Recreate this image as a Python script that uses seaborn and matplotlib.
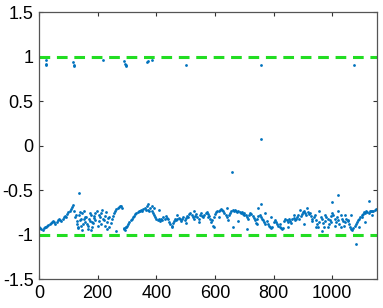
import numpy as np
import pandas as pd
import matplotlib
matplotlib.use("Agg")
import matplotlib.pyplot as plt
import seaborn as sns

# main trace, sampled every 4 samples (x = 0, 4, 8, ...)
trace_step = 4
trace_vals = [
    -0.92, -0.93, -0.94, -0.95, -0.93, -0.92, -0.91, -0.90, -0.89, -0.88,
    -0.87, -0.86, -0.85, -0.86, -0.88, -0.86, -0.84, -0.83, -0.84, -0.85,
    -0.82, -0.80, -0.79, -0.80, -0.77, -0.75, -0.73, -0.71, -0.69, -0.67,
    -0.74, -0.80, -0.88, -0.93, -0.78, -0.84, -0.90, -0.76, -0.82, -0.86,
    -0.80, -0.88, -0.94, -0.85, -0.78, -0.92, -0.87, -0.81, -0.76, -0.73,
    -0.90, -0.85, -0.80, -0.76, -0.72, -0.84, -0.79, -0.75, -0.86, -0.81,
    -0.92, -0.87, -0.83, -0.79, -0.76, -0.73, -0.71, -0.70, -0.69, -0.68,
    -0.68, -0.70, -0.93, -0.95, -0.92, -0.90, -0.88, -0.86, -0.84, -0.82,
    -0.80, -0.79, -0.77, -0.76, -0.75, -0.74, -0.73, -0.72, -0.73, -0.71,
    -0.70, -0.72, -0.68, -0.72, -0.74, -0.70, -0.73, -0.76, -0.78, -0.80,
    -0.82, -0.84, -0.83, -0.85, -0.82, -0.84, -0.80, -0.82, -0.79, -0.81,
    -0.83, -0.86, -0.88, -0.90, -0.87, -0.85, -0.83, -0.84, -0.82, -0.81,
    -0.83, -0.85, -0.82, -0.80, -0.84, -0.81, -0.79, -0.80, -0.77, -0.76,
    -0.78, -0.80, -0.82, -0.79, -0.77, -0.80, -0.82, -0.78, -0.76, -0.79,
    -0.80, -0.78, -0.76, -0.75, -0.77, -0.79, -0.82, -0.86, -0.90, -0.80,
    -0.77, -0.75, -0.74, -0.73, -0.72, -0.71, -0.72, -0.74, -0.76, -0.78,
    -0.80, -0.84, -0.78, -0.76, -0.74, -0.72, -0.73, -0.72, -0.74, -0.75,
    -0.74, -0.75, -0.76, -0.75, -0.77, -0.76, -0.78, -0.80, -0.82, -0.78,
    -0.76, -0.77, -0.79, -0.81, -0.84, -0.87, -0.82, -0.79, -0.78, -0.80,
    -0.82, -0.84, -0.86, -0.88, -0.85, -0.88, -0.90, -0.92, -0.93, -0.91,
    -0.86, -0.84, -0.86, -0.88, -0.90, -0.92, -0.93, -0.94, -0.93, -0.85,
    -0.82, -0.84, -0.86, -0.83, -0.85, -0.87, -0.83, -0.81, -0.84, -0.82,
    -0.80, -0.78, -0.82, -0.79, -0.77, -0.75, -0.73, -0.76, -0.78, -0.75,
    -0.77, -0.76, -0.79, -0.82, -0.80, -0.78, -0.84, -0.88, -0.92, -0.86,
    -0.80, -0.83, -0.87, -0.92, -0.85, -0.80, -0.82, -0.88, -0.84, -0.79,
    -0.76, -0.78, -0.82, -0.86, -0.80, -0.84, -0.88, -0.78, -0.82, -0.85,
    -0.90, -0.86, -0.82, -0.84, -0.88, -0.92, -0.94, -0.95, -0.93, -0.90,
    -0.88, -0.86, -0.84, -0.82, -0.80, -0.78, -0.77, -0.75, -0.76, -0.74,
    -0.75, -0.76, -0.74, -0.73, -0.74, -0.73, -0.72, -0.71,
]

# scattered samples around the band
band_x = [126, 130, 134, 138, 142, 146, 150, 154, 158, 166, 170, 174, 178, 182,
          186, 190, 206, 212, 218, 226, 232, 238, 262, 290, 298, 372, 384, 392,
          410, 455, 470, 500, 530, 545, 575, 590, 595, 615, 640, 663, 680, 700,
          710, 743, 748, 770, 790, 820, 850, 870, 890, 905, 915, 930, 945, 955,
          965, 975, 985, 995, 1010, 1020, 1030, 1045, 1055, 1065, 1090, 1100,
          1110, 1135]
band_y = [-0.78, -0.85, -0.92, -0.75, -0.82, -0.95, -0.88, -0.73, -0.80, -0.90,
          -0.83, -0.76, -0.95, -0.86, -0.79, -0.84, -0.78, -0.88, -0.83, -0.90,
          -0.94, -0.80, -0.96, -0.94, -0.92, -0.66, -0.68, -0.70, -0.72, -0.92,
          -0.78, -0.87, -0.74, -0.86, -0.80, -0.84, -0.92, -0.80, -0.70, -0.91,
          -0.85, -0.78, -0.94, -0.88, -0.70, -0.76, -0.80, -0.88, -0.92, -0.78,
          -0.72, -0.88, -0.70, -0.85, -0.92, -0.74, -0.96, -0.78, -0.92, -0.86,
          -0.90, -0.74, -0.92, -0.78, -0.85, -0.78, -0.92, -0.80, -0.86, -0.78]

# outliers
out_x = [136, 657, 756, 756, 1000, 1021, 1081, 1124]
out_y = [-0.535, -0.30, 0.075, -0.655, -0.64, -0.56, -1.11, -0.62]

# points near +1
top_x = [22, 23, 24, 117, 118, 119, 219, 291, 293, 295, 297, 367, 372, 384,
         501, 757, 1075]
top_y = [0.96, 0.92, 0.90, 0.94, 0.91, 0.89, 0.96, 0.95, 0.92, 0.90, 0.89,
         0.94, 0.95, 0.96, 0.90, 0.90, 0.90]

bounds = [1, -1]
xticks = [0, 200, 400, 600, 800, 1000]
yticks = [-1.5, -1, -0.5, 0, 0.5, 1, 1.5]
ytick_labels = ["-1.5", "-1", "-0.5", "0", "0.5", "1", "1.5"]

trace_x = list(range(0, trace_step * len(trace_vals), trace_step))
df = pd.DataFrame({
    "x": trace_x + band_x + out_x + top_x,
    "y": trace_vals + band_y + out_y + top_y,
})

sns.set_style("ticks")
plt.rcParams["font.family"] = ["Liberation Sans", "DejaVu Sans"]

fig = plt.figure(figsize=(3.83, 3.08), dpi=100)
ax = fig.add_axes([0.102, 0.094, 0.882, 0.867])

sns.scatterplot(data=df, x="x", y="y", ax=ax, color="#0072BD", s=4,
                linewidth=0, legend=False)
for b in bounds:
    ax.axhline(b, color="#22DD22", linestyle=(0, (3.5, 2.2)), linewidth=2.2)

ax.set_xlim(0, 1152)
ax.set_ylim(-1.5, 1.5)
ax.set_xticks(xticks)
ax.set_yticks(yticks)
ax.set_yticklabels(ytick_labels)
ax.set_xlabel("")
ax.set_ylabel("")
ax.tick_params(direction="in", length=3, width=0.8, colors="#333333",
               labelcolor="black", labelsize=13, top=True, right=True, pad=4)
for sp in ax.spines.values():
    sp.set_visible(True)
    sp.set_color("#555555")
    sp.set_linewidth(0.9)

fig.savefig("out.png", dpi=100)
